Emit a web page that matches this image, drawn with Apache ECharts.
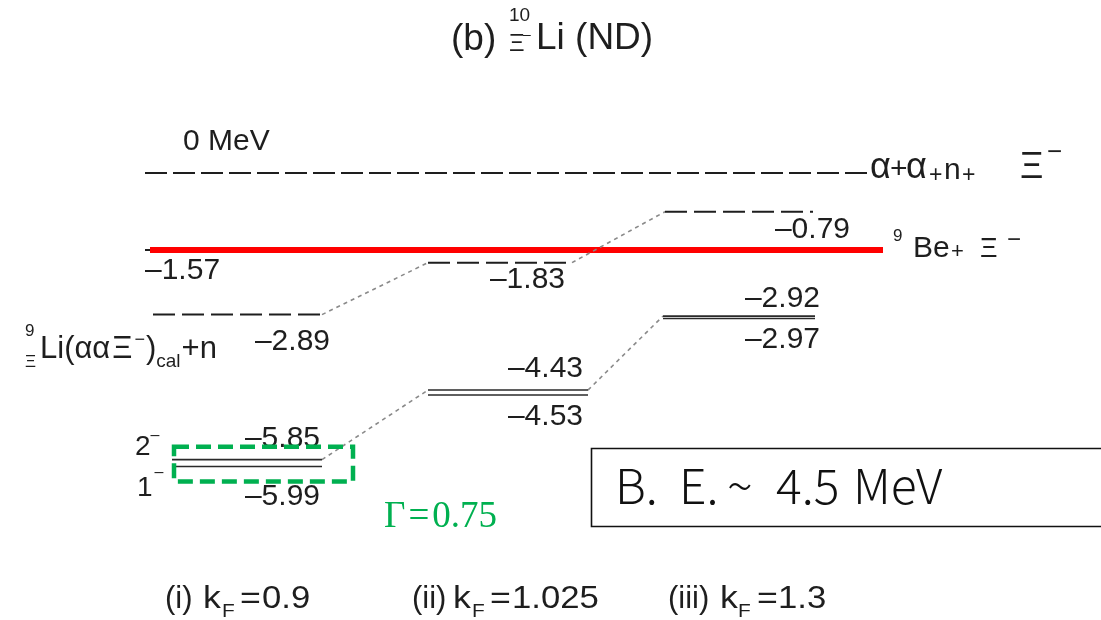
<!DOCTYPE html>
<html>
<head>
<meta charset="utf-8">
<script src="https://cdn.jsdelivr.net/npm/echarts@6/dist/echarts.min.js"></script>
<style>
  html, body { margin: 0; padding: 0; background: #ffffff; }
  #chart { width: 1101px; height: 620px; }
</style>
</head>
<body>
<div id="chart"></div>
<script>
// Level energies in MeV, measured from the α+α+n+Ξ− breakup threshold
const columnTags = ['(i)', '(ii)', '(iii)'];
const kFValues = ['0.9', '1.025', '1.3'];
const calcThreshold = [-2.89, -1.83, -0.79];   // 9ΞLi(ααΞ−)cal + n
const level2Minus = [-5.85, -4.43, -2.92];     // 2− states
const level1Minus = [-5.99, -4.53, -2.97];     // 1− states
const breakupThreshold = 0;                    // α+α+n+Ξ−
const beThreshold = -1.57;                     // 9Be+Ξ−
const gammaWidth = 0.75;
const bindingEnergy = 4.5;

// ---- layout ----
const SANS = '"Liberation Sans", Arial, Helvetica, sans-serif';
const SERIF = '"Liberation Serif", "Times New Roman", serif';
const CJK = '"Noto Sans CJK JP", "Noto Sans", sans-serif';
const INK = '#1e1e1e';
const GREEN = '#00b050';
const X_MAX = 1101;                        // horizontal layout units
const DASH_SPAN = [[153, 322], [428, 572], [665, 813]];
const PAIR_SPAN = [[172, 322], [428, 588], [663, 815]];
const THRESH_SPAN = [145, 868];
const BE_SPAN = [150, 883];
// value-label offsets (px): [anchor, dx, dy]
const CALC_LABEL = [['end', 8, 27], ['end', -7, 17], ['end', 37, 18]];
const L2_LABEL = [['end', -2, -21], ['end', -5, -21], ['end', 5, -17]];
const L1_LABEL = [['end', -2, 30], ['end', -5, 22], ['end', 5, 21]];
// caption glyph positions: tag, k, F, =, value
const CAPTION_X = [[165, 203, 222, 240, 262], [412, 453, 472, 490, 512], [668, 720, 738, 757, 778]];

const fmt = v => (v < 0 ? '\u2013' : '') + Math.abs(v).toFixed(2);

const levelItems = [];
// breakup threshold
levelItems.push({x0: THRESH_SPAN[0], x1: THRESH_SPAN[1], e0: breakupThreshold, e1: breakupThreshold,
  stroke: INK, lw: 2, dash: [22, 6],
  label: {text: breakupThreshold + ' MeV', anchor: 'start', dx: 38, dy: -31, align: 'left'}});
// 9Be + Xi threshold
levelItems.push({x0: THRESH_SPAN[0], x1: BE_SPAN[1], e0: beThreshold, e1: beThreshold, stroke: INK, lw: 2});
levelItems.push({x0: BE_SPAN[0], x1: BE_SPAN[1], e0: beThreshold, e1: beThreshold, stroke: '#ff0000', lw: 6,
  label: {text: fmt(beThreshold), anchor: 'start', dx: -5, dy: 21, align: 'left'}});
// connectors between columns
for (let i = 0; i < 2; i++) {
  levelItems.push({x0: DASH_SPAN[i][1], x1: DASH_SPAN[i + 1][0], e0: calcThreshold[i], e1: calcThreshold[i + 1],
    stroke: '#8a8a8a', lw: 1.6, dash: [4, 4]});
  levelItems.push({x0: PAIR_SPAN[i][1], x1: PAIR_SPAN[i + 1][0], e0: level2Minus[i], e1: level2Minus[i + 1],
    stroke: '#8a8a8a', lw: 1.6, dash: [4, 4]});
}
// calculated thresholds and bound-state pairs
for (let i = 0; i < 3; i++) {
  const c = CALC_LABEL[i], a = L2_LABEL[i], b = L1_LABEL[i];
  levelItems.push({x0: DASH_SPAN[i][0], x1: DASH_SPAN[i][1], e0: calcThreshold[i], e1: calcThreshold[i],
    stroke: INK, lw: 2, dash: [22, 7],
    label: {text: fmt(calcThreshold[i]), anchor: c[0], dx: c[1], dy: c[2], align: 'right'}});
  levelItems.push({x0: PAIR_SPAN[i][0], x1: PAIR_SPAN[i][1], e0: level2Minus[i], e1: level2Minus[i],
    stroke: '#2a2a2a', lw: 1.6,
    label: {text: fmt(level2Minus[i]), anchor: a[0], dx: a[1], dy: a[2], align: 'right'}});
  levelItems.push({x0: PAIR_SPAN[i][0], x1: PAIR_SPAN[i][1], e0: level1Minus[i], e1: level1Minus[i],
    stroke: '#2a2a2a', lw: 1.6,
    label: {text: fmt(level1Minus[i]), anchor: b[0], dx: b[1], dy: b[2], align: 'right'}});
}

function renderLevel(params, api) {
  const it = levelItems[params.dataIndex];
  const a = api.coord([it.x0, it.e0]);
  const b = api.coord([it.x1, it.e1]);
  const children = [{
    type: 'line',
    shape: {x1: a[0], y1: a[1], x2: b[0], y2: b[1]},
    style: {stroke: it.stroke, lineWidth: it.lw, lineDash: it.dash || null, fill: null}
  }];
  if (it.label) {
    const L = it.label;
    const ax = L.anchor === 'end' ? b[0] : a[0];
    children.push({
      type: 'text', x: ax + L.dx, y: a[1] + L.dy,
      style: {text: L.text, font: '30px ' + SANS, fill: INK, align: L.align, verticalAlign: 'middle'}
    });
  }
  return {type: 'group', children};
}

// text pieces placed on a shared baseline (super/subscripts via dy)
const mctx = document.createElement('canvas').getContext('2d');
function run(x, baseline, pieces, family) {
  const out = [];
  let cx = x;
  for (const p of pieces) {
    const font = p.s + 'px ' + (p.f || family || SANS);
    mctx.font = font;
    if (p.at !== undefined) cx = p.at;
    cx += p.dx || 0;
    const sx = p.sx || 1;
    out.push({type: 'text', x: cx, y: baseline - 0.35 * p.s + (p.dy || 0), scaleX: sx, silent: true,
      style: {text: p.t, font, fill: p.c || INK, align: 'left', verticalAlign: 'middle'}});
    cx += mctx.measureText(p.t).width * sx;
  }
  return out;
}

// highlighted lowest doublet with its width
function renderResonance(params, api) {
  const top = api.coord([PAIR_SPAN[0][0], level2Minus[0]]);
  const bot = api.coord([PAIR_SPAN[0][1], level1Minus[0]]);
  const x = top[0] + 2, y = top[1] - 13;
  const w = bot[0] - top[0] + 29, h = bot[1] - top[1] + 28;
  const gx = x + w + 31, gb = y + h + 49;
  return {type: 'group', children: [
    {type: 'rect', shape: {x, y, width: w, height: h},
     style: {stroke: GREEN, lineWidth: 4.5, lineDash: [15, 7], fill: null}},
    ...run(gx, gb, [
      {t: '\u0393', s: 37, c: GREEN}, {t: '=', s: 37, c: GREEN, dx: 3}, {t: String(gammaWidth), s: 37, c: GREEN, dx: 3}
    ], SERIF)
  ]};
}

const graphics = [];
// title
graphics.push(...run(451, 53, [{t: '(b)', s: 37}]));
graphics.push(...run(509, 22, [{t: '10', s: 19}]));
graphics.push(...run(509, 53, [{t: '\u039E', s: 24}, {t: '\u2013', s: 14, at: 523, dy: -13}]));
graphics.push(...run(536, 52, [{t: 'Li (ND)', s: 37}]));
// threshold names
graphics.push(...run(870, 181, [
  {t: '\u03B1', s: 36}, {t: '+', s: 30, at: 890, dy: -1}, {t: '\u03B1', s: 36, at: 906}, {t: '+', s: 23, at: 929, dy: 3},
  {t: 'n', s: 30, at: 944}, {t: '+', s: 23, at: 962, dy: 3}, {t: '\u039E', s: 36, at: 1020},
  {t: '\u2212', s: 26, at: 1047, dy: -19}]));
graphics.push(...run(893, 242, [{t: '9', s: 17}]));
graphics.push(...run(913, 259, [
  {t: 'Be', s: 30}, {t: '+', s: 22, at: 951, dy: 1}, {t: '\u039E', s: 27, at: 980}, {t: '\u2212', s: 24, at: 1007, dy: -10}]));
graphics.push(...run(25, 337, [{t: '9', s: 17}]));
graphics.push(...run(25, 368, [{t: '\u039E', s: 17}]));
graphics.push(...run(40, 360, [
  {t: 'Li(', s: 31}, {t: '\u03B1\u03B1', s: 31}, {t: '\u039E', s: 31, dx: 2}, {t: '\u2212', s: 18, dy: -14, dx: 2},
  {t: ')', s: 31, dx: 1}, {t: 'cal', s: 19, dy: 8}, {t: '+n', s: 31, dx: 1}]));
// spin-parity labels
graphics.push(...run(135, 457, [{t: '2', s: 28}, {t: '\u2013', s: 16, dy: -16}]));
graphics.push(...run(137, 498, [{t: '1', s: 28}, {t: '\u2013', s: 16, dy: -20, dx: 2}]));
// column captions
for (let i = 0; i < 3; i++) {
  const p = CAPTION_X[i];
  graphics.push(...run(p[0], 610, [
    {t: columnTags[i], s: 31}, {t: 'k', s: 31, at: p[1], sx: 1.15},
    {t: 'F', s: 19, at: p[2], dy: 8, sx: 1.1}, {t: '=', s: 31, at: p[3], sx: 1.15},
    {t: kFValues[i], s: 31, at: p[4], sx: 1.12}]));
}
// binding-energy box
graphics.push({type: 'rect', shape: {x: 591.5, y: 448.5, width: 540, height: 78},
  style: {stroke: '#111', lineWidth: 1.6, fill: '#fff'}});
const BE_X = [615, 679, 727, 776, 853];
['B.', 'E.', '~', String(bindingEnergy), 'MeV'].forEach((t, i) => {
  graphics.push({type: 'text', x: BE_X[i], y: 486, silent: true,
    style: {text: t, font: '300 48px ' + CJK, fill: '#111', align: 'left', verticalAlign: 'middle'}});
});

const chart = echarts.init(document.getElementById('chart'), null, {renderer: 'canvas'});
chart.setOption({
  animation: false,
  backgroundColor: '#ffffff',
  grid: {left: 0, right: 0, top: 124, bottom: 55},
  xAxis: {type: 'value', min: 0, max: X_MAX, show: false},
  yAxis: {type: 'value', min: -8, max: 1, show: false},
  series: [
    {type: 'custom', name: 'levels', clip: false, encode: {x: 0, y: 1},
     data: levelItems.map(it => [it.x0, it.e0]), renderItem: renderLevel, silent: true},
    {type: 'custom', name: 'resonance', clip: false, encode: {x: 0, y: 1},
     data: [[PAIR_SPAN[0][0], level2Minus[0]]], renderItem: renderResonance, silent: true}
  ],
  graphic: graphics
});
</script>
</body>
</html>
